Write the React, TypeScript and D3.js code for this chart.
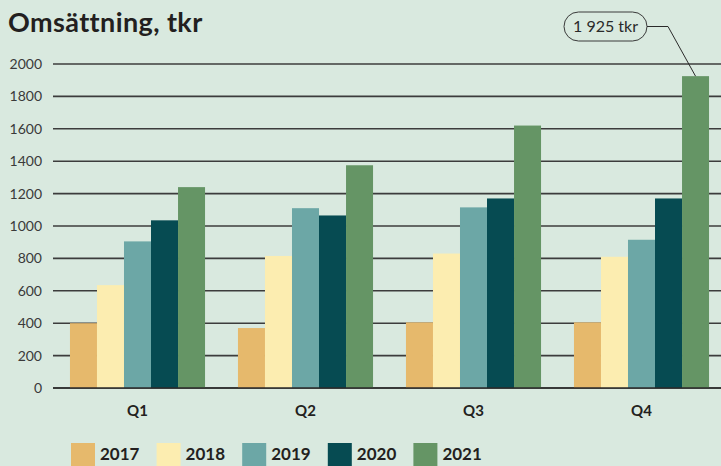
import React from 'react';
import * as d3 from 'd3';

// quarters and yearly series (tkr)
const quarters = ['Q1', 'Q2', 'Q3', 'Q4'];
const years = ['2017', '2018', '2019', '2020', '2021'];
const values2017 = [400, 370, 405, 405];
const values2018 = [635, 815, 830, 810];
const values2019 = [905, 1110, 1115, 915];
const values2020 = [1035, 1065, 1170, 1170];
const values2021 = [1240, 1375, 1620, 1925];
const yTicks = [0, 200, 400, 600, 800, 1000, 1200, 1400, 1600, 1800, 2000];
const calloutText = '1 925 tkr';

const colors: Record<string, string> = {
  '2017': '#e6b96c',
  '2018': '#fcedb0',
  '2019': '#6ca7a6',
  '2020': '#064b52',
  '2021': '#659565',
};

const width = 721;
const height = 466;
const bg = '#d9e9df';
const font = 'Lato, "DejaVu Sans", sans-serif';

const App = () => {
  const series = [values2017, values2018, values2019, values2020, values2021];

  const x0 = d3.scaleBand<string>()
    .domain(quarters)
    .range([53.5, 725.5])
    .paddingInner(0.196)
    .paddingOuter(0.098);

  const x1 = d3.scaleBand<string>()
    .domain(years)
    .range([0, x0.bandwidth()]);

  const y = d3.scaleLinear()
    .domain([0, 2000])
    .range([388, 64]);

  // callout points at the Q4 2021 bar
  const topX = (x0('Q4') ?? 0) + (x1('2021') ?? 0) + x1.bandwidth() / 2;
  const topY = y(values2021[3]);
  const box = { x: 564, y: 12, w: 83, h: 29 };

  return (
    <svg width={width} height={height} style={{ position: 'absolute', left: 0, top: 0 }}
      fontFamily={font}>
      <rect width={width} height={height} fill={bg} />

      <text x={8} y={32} fontSize={27} fontWeight="bold" letterSpacing={0.4} fill="#231f20">Omsättning, tkr</text>

      {/* grid */}
      {yTicks.map((t) => (
        <g key={t}>
          <line x1={53} x2={width} y1={y(t)} y2={y(t)} stroke="#3c3c3c" strokeWidth={1.6} />
          <text x={42} y={y(t)} dy="0.35em" textAnchor="end" fontSize={14} fill="#3a3a3a">{t}</text>
        </g>
      ))}

      {/* bars */}
      {quarters.map((q, qi) => (
        <g key={q} transform={`translate(${x0(q)},0)`}>
          {years.map((yr, si) => (
            <rect key={yr}
              x={x1(yr)}
              y={y(series[si][qi])}
              width={x1.bandwidth()}
              height={y(0) - y(series[si][qi])}
              fill={colors[yr]} />
          ))}
          <text x={x0.bandwidth() / 2} y={416} textAnchor="middle" fontSize={15}
            fontWeight="bold" fill="#231f20">{q}</text>
        </g>
      ))}
      <line x1={53} x2={width} y1={y(0)} y2={y(0)} stroke="#2a2a2a" strokeWidth={1.6} />

      {/* callout */}
      <rect x={box.x} y={box.y} width={box.w} height={box.h} rx={14.5} fill="none"
        stroke="#3a3a3a" strokeWidth={1} />
      <text x={box.x + box.w / 2} y={box.y + box.h / 2} dy="0.35em" textAnchor="middle"
        fontSize={16} fill="#2a2a2a">{calloutText}</text>
      <polyline points={`${box.x + box.w},${box.y + box.h / 2} 668,${box.y + box.h / 2} ${topX},${topY}`}
        fill="none" stroke="#2a2a2a" strokeWidth={1} />

      {/* legend */}
      {years.map((yr, i) => (
        <g key={yr} transform={`translate(${71 + i * 85.6},443)`}>
          <rect width={24} height={30} fill={colors[yr]} />
          <text x={29} y={17} fontSize={17} fontWeight="bold" fill="#231f20">{yr}</text>
        </g>
      ))}
    </svg>
  );
};

export default App;
